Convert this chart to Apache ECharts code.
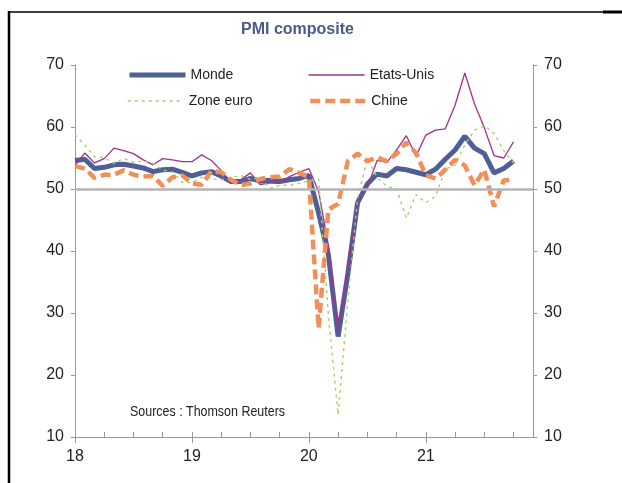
<!DOCTYPE html>
<html>
<head>
    <meta charset="utf-8">
    <script src="https://cdn.jsdelivr.net/npm/echarts@6/dist/echarts.min.js"></script>
    <style>
        html, body { margin: 0; padding: 0; background: #fff; }
    </style>
</head>
<body>
    <div id="main" style="width: 622px;height:483px;"></div>
    <script type="text/javascript">
        // mois de janvier 2018 a decembre 2021
        var months = [];
        for (var y = 2018; y <= 2021; y++) {
            for (var m = 1; m <= 12; m++) {
                months.push(y + '-' + (m < 10 ? '0' + m : m));
            }
        }
        var yearLabels = ['18', '19', '20', '21'];

        var monde = [
            54.6, 54.8, 53.3, 53.5, 53.9, 54.0, 53.7, 53.4, 52.8, 53.1, 53.2, 52.7,
            52.1, 52.6, 52.8, 52.1, 51.2, 51.2, 51.7, 51.3, 51.4, 51.2, 51.5, 51.7,
            52.2, 46.1, 39.4, 26.2, 36.3, 47.8, 50.8, 52.4, 52.1, 53.3, 53.1, 52.7,
            52.3, 53.2, 54.8, 56.3, 58.5, 56.6, 55.7, 52.6, 53.3, 54.5
        ];
        var etatsUnis = [
            53.8, 55.8, 54.2, 54.9, 56.6, 56.2, 55.7, 54.7, 53.9, 54.9, 54.7, 54.4,
            54.4, 55.5, 54.6, 53.0, 50.9, 51.5, 52.6, 50.7, 51.0, 50.9, 52.0, 52.7,
            53.3, 49.6, 40.9, 27.0, 37.0, 47.9, 50.3, 54.6, 54.3, 56.3, 58.6, 55.3,
            58.7, 59.5, 59.7, 63.5, 68.7, 63.7, 59.9, 55.4, 55.0, 57.6
        ];
        var zoneEuro = [
            58.8, 57.1, 55.2, 55.1, 54.1, 54.9, 54.3, 54.5, 54.1, 53.1, 52.7, 51.1,
            51.0, 51.9, 51.6, 51.5, 51.8, 52.2, 51.5, 51.9, 50.1, 50.6, 50.6, 50.9,
            51.3, 51.6, 29.7, 13.6, 31.9, 48.5, 54.9, 51.9, 50.4, 50.0, 45.3, 49.1,
            47.8, 48.8, 53.2, 53.8, 57.1, 59.5, 60.2, 59.0, 56.2, 54.2
        ];
        var chine = [
            53.7, 53.3, 51.8, 52.3, 52.3, 53.0, 52.3, 52.0, 52.1, 50.5, 51.9, 52.2,
            50.9, 50.7, 52.9, 52.7, 51.5, 50.6, 50.9, 51.6, 51.9, 52.0, 53.2, 52.6,
            51.9, 27.5, 46.7, 47.6, 54.5, 55.7, 54.5, 55.1, 54.5, 55.7, 57.5, 55.8,
            52.2, 51.7, 53.1, 54.7, 53.8, 50.6, 53.1, 47.2, 51.4, 51.5
        ];

        var FONT = "'Liberation Sans', Arial, sans-serif";

        function legendAt(name, left, top, lineWidth) {
            return {
                data: [name],
                left: left,
                top: top,
                padding: 0,
                itemWidth: 56,
                itemHeight: 14,
                selectedMode: false,
                itemStyle: { opacity: 0 },
                lineStyle: { width: lineWidth },
                textStyle: { fontFamily: FONT, fontSize: 14, color: '#222' }
            };
        }

        var yAxisCommon = {
            type: 'value',
            min: 10,
            max: 70,
            interval: 10,
            axisLine: { show: true, lineStyle: { color: '#999', width: 1 } },
            axisTick: { show: true, length: 4, lineStyle: { color: '#999' } },
            axisLabel: { fontFamily: FONT, fontSize: 16, color: '#222', margin: 11 },
            splitLine: { show: false }
        };

        option = {
            animation: false,
            title: {
                text: 'PMI composite',
                left: 241,
                top: 22,
                padding: 0,
                textStyle: { fontFamily: FONT, fontSize: 16, fontWeight: 'bold', color: '#4a5a8c' }
            },
            legend: [
                legendAt('Monde', 127, 68, 5),
                legendAt('Etats-Unis', 308, 68, 1.3),
                legendAt('Zone euro', 127, 94, 1.4),
                legendAt('Chine', 308, 94, 4.5)
            ],
            grid: {
                left: 75,
                right: 89,
                top: 65,
                bottom: 46
            },
            xAxis: [
                {
                    type: 'category',
                    position: 'bottom',
                    boundaryGap: false,
                    data: months,
                    axisLine: { lineStyle: { color: '#999', width: 1 } },
                    axisTick: { interval: 11, length: 6, lineStyle: { color: '#999' } },
                    axisLabel: {
                        interval: 11,
                        margin: 12,
                        fontFamily: FONT,
                        fontSize: 16,
                        color: '#222',
                        formatter: function (v, i) { return yearLabels[i / 12]; }
                    },
                    splitLine: { show: false }
                },
                {
                    type: 'category',
                    position: 'bottom',
                    boundaryGap: false,
                    data: months,
                    axisLine: { show: false },
                    axisTick: { interval: 2, inside: true, length: 5, lineStyle: { color: '#999' } },
                    axisLabel: { show: false },
                    splitLine: { show: false }
                }
            ],
            yAxis: [
                echarts.util.merge({ position: 'left' }, yAxisCommon, true),
                echarts.util.merge({ position: 'right' }, yAxisCommon, true)
            ],
            graphic: [
                { type: 'line', shape: { x1: 8, y1: 12, x2: 622, y2: 12 }, style: { stroke: '#000', lineWidth: 1.5 } },
                { type: 'line', shape: { x1: 603, y1: 12, x2: 622, y2: 12 }, style: { stroke: '#000', lineWidth: 3 } },
                { type: 'line', shape: { x1: 9, y1: 11, x2: 9, y2: 483 }, style: { stroke: '#000', lineWidth: 2.5 } },
                {
                    type: 'text', x: 130, y: 412, scaleX: 0.83,
                    style: { text: 'Sources : Thomson Reuters', fontFamily: FONT, fontSize: 15, fill: '#222', verticalAlign: 'middle' }
                }
            ],
            series: [
                {
                    name: 'Monde',
                    type: 'line',
                    data: monde,
                    showSymbol: false,
                    symbol: 'none',
                    lineStyle: { color: '#4e5f98', width: 5 },
                    itemStyle: { color: '#4e5f98' },
                    markLine: {
                        silent: true,
                        symbol: 'none',
                        label: { show: false },
                        lineStyle: { color: '#b4b4b4', width: 2.5, type: 'solid' },
                        data: [{ yAxis: 50 }]
                    }
                },
                {
                    name: 'Etats-Unis',
                    type: 'line',
                    data: etatsUnis,
                    showSymbol: false,
                    symbol: 'none',
                    lineStyle: { color: '#a4308a', width: 1.3 },
                    itemStyle: { color: '#a4308a' }
                },
                {
                    name: 'Zone euro',
                    type: 'line',
                    data: zoneEuro,
                    showSymbol: false,
                    symbol: 'none',
                    lineStyle: { color: '#a6d06c', width: 1.4, type: [3, 4] },
                    itemStyle: { color: '#a6d06c' }
                },
                {
                    name: 'Chine',
                    type: 'line',
                    data: chine,
                    showSymbol: false,
                    symbol: 'none',
                    lineStyle: { color: '#f08f5a', width: 4.5, type: [10, 5] },
                    itemStyle: { color: '#f08f5a' }
                }
            ]
        };

        var myChart = echarts.init(document.getElementById('main'));
        myChart.setOption(option);
    </script>
</body>
</html>
